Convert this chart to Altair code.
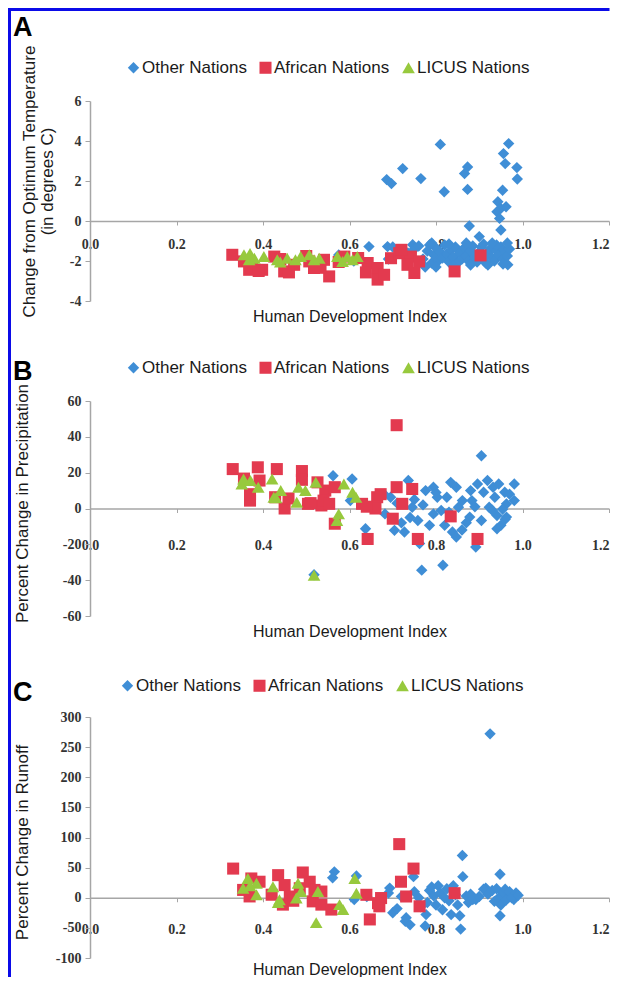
import altair as alt
import pandas as pd

GROUPS = ["Other Nations", "African Nations", "LICUS Nations"]
COLORS = ["#3F8ED6", "#E33A4F", "#97C93D"]
SHAPES = ["diamond", "square", "triangle-up"]
SIZES = [130, 160, 125]
LETTERS = ["A", "B", "C"]
X_TICKS = [0.0, 0.2, 0.4, 0.6, 0.8, 1.0, 1.2]
X_TITLE = "Human Development Index"

# ---------------- Panel A: change from optimum temperature ----------------
A_TITLE = ["Change from Optimum Temperature", "(in degrees C)"]
A_TICKS = [-4, -2, 0, 2, 4, 6]
a_other_hdi = [0.81, 0.968, 0.956, 0.96, 0.987, 0.988, 0.723, 0.686, 0.697, 0.765, 0.819, 0.873,
               0.866, 0.873, 0.954, 0.943, 0.95, 0.962, 0.941, 0.947, 0.95, 0.877, 0.90, 0.966,
               0.575, 0.61, 0.645, 0.688, 0.70, 0.69, 0.725, 0.735, 0.746, 0.75, 0.76, 0.77, 0.775,
               0.78, 0.785, 0.79, 0.795, 0.80, 0.805, 0.81, 0.815, 0.82, 0.825, 0.83, 0.835, 0.84,
               0.845, 0.85, 0.855, 0.86, 0.865, 0.87, 0.875, 0.88, 0.885, 0.89, 0.895, 0.90, 0.905,
               0.91, 0.915, 0.92, 0.925, 0.93, 0.935, 0.94, 0.945, 0.95, 0.955, 0.96, 0.965, 0.97,
               0.79, 0.83, 0.87, 0.91, 0.94, 0.80, 0.84, 0.88, 0.92, 0.955, 0.965, 0.93]
a_other_val = [3.83, 3.87, 3.37, 2.87, 2.67, 2.1, 2.62, 2.07, 1.87, 2.12, 1.46, 2.7,
               2.37, 1.58, 1.54, 0.96, 0.63, 0.71, 0.46, 0.13, -0.45, -0.25, -0.78, -2.19,
               -1.7, -2.0, -1.28, -1.28, -1.3, -1.9, -1.7, -1.6, -1.19, -1.4, -1.25, -1.9, -2.3,
               -1.5, -1.2, -2.1, -1.7, -1.35, -2.0, -1.55, -1.85, -1.2, -1.65, -2.05, -1.45, -1.8,
               -1.3, -2.1, -1.6, -1.9, -1.35, -1.75, -2.0, -1.5, -1.25, -1.8, -2.05, -1.55, -1.3,
               -1.9, -2.1, -1.6, -1.4, -1.85, -2.0, -1.5, -1.7, -1.3, -1.9, -1.55, -1.75, -1.4,
               -1.1, -1.15, -1.1, -1.15, -1.2, -2.3, -2.25, -2.2, -2.2, -2.15, -1.1, -1.1]
a_afr_hdi = [0.329, 0.356, 0.375, 0.398, 0.426, 0.449, 0.472, 0.507, 0.518, 0.541, 0.553, 0.588,
             0.642, 0.665, 0.665, 0.696, 0.715, 0.742, 0.734, 0.761, 0.75, 0.68, 0.843, 0.903,
             0.368, 0.39, 0.46, 0.533, 0.638, 0.72, 0.62, 0.44, 0.50, 0.575]
a_afr_val = [-1.69, -2.02, -2.35, -2.44, -1.78, -2.52, -2.19, -2.02, -2.35, -1.94, -2.77, -1.78,
             -2.1, -2.35, -2.93, -1.86, -1.61, -1.78, -2.19, -2.02, -2.6, -2.69, -2.52, -1.72,
             -2.44, -2.5, -2.57, -2.34, -2.57, -1.44, -1.85, -1.9, -1.75, -2.05]
a_licus_hdi = [0.356, 0.368, 0.38, 0.402, 0.433, 0.456, 0.475, 0.487, 0.507, 0.518, 0.572, 0.584,
               0.595, 0.607, 0.618, 0.53, 0.37, 0.44]
a_licus_val = [-1.69, -1.94, -1.86, -1.78, -1.94, -1.86, -1.94, -1.78, -1.69, -1.94, -1.78, -2.02,
               -1.78, -1.94, -1.78, -1.86, -1.62, -2.05]

# ---------------- Panel B: percent change in precipitation ----------------
B_TITLE = "Percent Change in Precipitation"
B_TICKS = [-60, -40, -20, 0, 20, 40, 60]
b_other_hdi = [0.562, 0.606, 0.602, 0.637, 0.682, 0.695, 0.704, 0.736, 0.727, 0.745, 0.758, 0.767,
               0.762, 0.776, 0.794, 0.803, 0.794, 0.785, 0.812, 0.825, 0.834, 0.82, 0.838, 0.816,
               0.847, 0.852, 0.861, 0.847, 0.883, 0.878, 0.892, 0.896, 0.905, 0.91, 0.919, 0.923,
               0.905, 0.932, 0.936, 0.941, 0.945, 0.95, 0.941, 0.959, 0.963, 0.954, 0.963, 0.981,
               0.981, 0.518, 0.71, 0.72, 0.75, 0.77, 0.80, 0.83, 0.87, 0.89, 0.96, 0.97, 0.93,
               0.88, 0.86, 0.68, 0.74]
b_other_val = [18.3, 16.5, 4.4, -11.3, -3, 6.3, -12.2, 15.6, -13.1, 0.7, -6.7, -34.4,
               -19.6, 10, 11.9, 6.3, -3, -9.4, -1.1, 6.3, 14.6, -9.4, -13.1, -31.7,
               11.9, 0.7, 4.4, -15.9, 4.4, -4.8, -21.5, 13.7, 29.4, 9.1, 15.6, 0.7,
               -6.7, 11.9, 6.3, -3.9, 13.7, -9.4, -11.3, 9.1, 2.6, -0.4, -4.8, 13.7,
               4.4, -37, 3, -8, 5, 2, 9, -2, -8, 1, -6, 8, -1,
               10, -12, 8, -5]
b_afr_hdi = [0.33, 0.356, 0.37, 0.388, 0.392, 0.432, 0.428, 0.45, 0.459, 0.49, 0.49, 0.504,
             0.526, 0.535, 0.544, 0.54, 0.553, 0.566, 0.566, 0.629, 0.642, 0.664, 0.66, 0.70,
             0.709, 0.709, 0.722, 0.745, 0.758, 0.834, 0.896, 0.51, 0.64, 0.672, 0.37]
b_afr_val = [22, 16.7, 4.4, 23, 15.6, 22, 6.3, 0, 5.6, 20.9, 16, 2.6,
             14.6, 1.7, 10, 4.4, 2.6, 11.9, -8.5, 2.6, -17, 6.3, 0, -5.7,
             46.5, 11.9, 2.6, 10.9, -17, -4.4, -17, 3, 1, 8, 8]
b_licus_hdi = [0.351, 0.355, 0.371, 0.389, 0.421, 0.425, 0.441, 0.478, 0.482, 0.498, 0.522, 0.587,
               0.607, 0.615, 0.575, 0.571, 0.518, 0.43]
b_licus_val = [13.7, 16.5, 15.6, 11.9, 16.5, 6.3, 10, 3.5, 11.9, 10, 14.6, 13.7,
               9.1, 6.3, -3, -6.7, -37.2, 6]

# ---------------- Panel C: percent change in runoff ----------------
C_TITLE = "Percent Change in Runoff"
C_TICKS = [-100, -50, 0, 50, 100, 150, 200, 250, 300]
c_other_hdi = [0.925, 0.565, 0.561, 0.616, 0.611, 0.693, 0.70, 0.729, 0.748, 0.775, 0.861, 0.857,
               0.948, 0.948, 0.862, 0.777, 0.731, 0.835, 0.915, 0.892, 0.965, 0.98,
               0.69, 0.71, 0.72, 0.74, 0.75, 0.76, 0.765, 0.78, 0.785, 0.79, 0.795, 0.80,
               0.805, 0.81, 0.815, 0.82, 0.825, 0.83, 0.84, 0.845, 0.85, 0.855, 0.87, 0.875,
               0.88, 0.885, 0.90, 0.91, 0.92, 0.93, 0.935, 0.94, 0.945, 0.95, 0.955, 0.96,
               0.962, 0.97, 0.975, 0.985, 0.99, 0.64]
c_other_val = [272, 43, 33, 36, -3, 16, -25, -39, 35, -47, 70, -52,
               39, -30, 35, -28, -33, -28, 16, -3, 5, -3,
               8, -18, 2, -45, 10, 0, -15, -8, 12, 18, 3, -12,
               20, 8, -20, 0, 15, -5, 20, 5, -12, -30, 3, -8,
               6, -3, 2, 14, 6, 12, -6, 15, 0, -12, 9, 14,
               -4, 10, 0, 8, 4, 2]
c_afr_hdi = [0.331, 0.435, 0.492, 0.373, 0.392, 0.354, 0.369, 0.45, 0.462, 0.485, 0.508, 0.519,
             0.535, 0.515, 0.535, 0.558, 0.446, 0.639, 0.647, 0.669, 0.673, 0.715, 0.719, 0.748,
             0.731, 0.762, 0.843, 0.42, 0.47, 0.666]
c_afr_val = [48.4, 37.5, 41.9, 32, 26.6, 13, 2.2, 21, 2, 15.8, 26.6, 13,
             10.3, -6, -11.4, -19.6, -11.4, 4.9, -36, -14.2, -0.5, 89, 26.6, 48.4,
             2.1, -14.2, 7.6, 5, -5, -9]
c_licus_hdi = [0.365, 0.385, 0.354, 0.385, 0.423, 0.438, 0.435, 0.481, 0.488, 0.477, 0.527, 0.577,
               0.585, 0.523, 0.612, 0.616, 0.37]
c_licus_val = [32, 24, 15.8, 4.9, 18.4, -3.3, -8, 24, 10.3, -0.5, 10.3, -11.4,
               -19.6, -41.3, 32, 7.6, 20]

BORDER = "#0B0BE8"
AXIS_GRAY = "#A6A6A6"
TEXT = "#1a1a1a"
PLOT_LEFT = 90
PLOT_RIGHT = 609


def frame(hdis, vals):
    rows = []
    for g, hs, vs in zip(GROUPS, hdis, vals):
        for h, v in zip(hs, vs):
            rows.append({"group": g, "hdi": h, "val": v})
    return pd.DataFrame(rows)


def one(key):
    return pd.DataFrame({"t": [key]})


def panel(df, letter, ytitle, ydom, yticks, T, H, band_top, band_bot,
          xt_y, letter_xy, legend_xy, ytitle_xy, xlab_pad, line_h=18, top_border=False):
    L = PLOT_LEFT
    W = PLOT_RIGHT - L
    zero_y = T + H * ydom[1] / (ydom[1] - ydom[0])
    leg = alt.Legend(orient="none", legendX=legend_xy[0] - L, legendY=legend_xy[1] - T,
                     direction="horizontal", title=None, labelFont="Liberation Sans",
                     labelFontSize=17, labelColor=TEXT, symbolSize=64, symbolStrokeWidth=0,
                     columnPadding=10, labelOffset=0, padding=0)
    x = alt.X("hdi:Q", scale=alt.Scale(domain=[0, 1.2], nice=False, zero=False),
              axis=alt.Axis(values=X_TICKS, format=".1f", offset=-(T + H - zero_y),
                            title=X_TITLE, titleY=xt_y - zero_y, titleBaseline="middle",
                            titleFont="Liberation Sans", titleFontSize=16,
                            titleFontWeight="normal", titleColor=TEXT,
                            labelFont="Liberation Serif", labelFontSize=14,
                            labelFontWeight="bold", labelColor="#333333", labelFlush=False,
                            labelAlign=alt.condition("datum.value > 1.1", alt.value("right"),
                                                     alt.value("center")),
                            labelPadding=xlab_pad, tickSize=4, tickColor=AXIS_GRAY,
                            domainColor=AXIS_GRAY, domainWidth=1.5, grid=False))
    y = alt.Y("val:Q", scale=alt.Scale(domain=ydom, nice=False, zero=False),
              axis=alt.Axis(values=yticks, labelExpr="'' + datum.value",
                            title=ytitle, titleX=ytitle_xy[0] - L, titleY=ytitle_xy[1] - T,
                            titleAlign="center", titleBaseline="middle",
                            titleFont="Liberation Sans", titleFontSize=17,
                            titleFontWeight="normal", titleColor=TEXT, titleLineHeight=line_h,
                            labelFont="Liberation Serif", labelFontSize=14,
                            labelFontWeight="bold", labelColor="#333333", labelPadding=4,
                            tickSize=5, tickColor=AXIS_GRAY, domainColor=AXIS_GRAY,
                            domainWidth=1.5, grid=False))
    pts = alt.Chart(df).mark_point(filled=True, opacity=1, strokeWidth=0).encode(
        x=x, y=y,
        color=alt.Color("group:N", scale=alt.Scale(domain=GROUPS, range=COLORS), legend=leg),
        shape=alt.Shape("group:N", scale=alt.Scale(domain=GROUPS, range=SHAPES), legend=leg),
        size=alt.Size("group:N", scale=alt.Scale(domain=GROUPS, range=SIZES), legend=None),
    )
    lab = alt.Chart(one(letter)).mark_text(
        align="left", baseline="alphabetic", font="Liberation Sans", fontSize=27,
        fontWeight="bold", color="black").encode(
        text="t:N", x=alt.value(letter_xy[0] - L), y=alt.value(letter_xy[1] - T))
    left = alt.Chart(one("left")).mark_rect(color=BORDER).encode(
        x=alt.value(8 - L), x2=alt.value(11 - L),
        y=alt.value(band_top - T), y2=alt.value(band_bot - T))
    layers = [left, lab, pts]
    if top_border:
        top = alt.Chart(one("top")).mark_rect(color=BORDER).encode(
            x=alt.value(8 - L), x2=alt.value(609.5 - L),
            y=alt.value(band_top - T), y2=alt.value(band_top + 3 - T))
        layers.insert(0, top)
    return alt.layer(*layers).properties(width=W, height=H)


dfA = frame([a_other_hdi, a_afr_hdi, a_licus_hdi], [a_other_val, a_afr_val, a_licus_val])
dfB = frame([b_other_hdi, b_afr_hdi, b_licus_hdi], [b_other_val, b_afr_val, b_licus_val])
dfC = frame([c_other_hdi, c_afr_hdi, c_licus_hdi], [c_other_val, c_afr_val, c_licus_val])

pA = panel(dfA, LETTERS[0], A_TITLE, [-4, 6], A_TICKS, T=101, H=200,
           band_top=8, band_bot=340, xt_y=316, letter_xy=(13, 36), legend_xy=(125, 59),
           ytitle_xy=(29, 181), xlab_pad=12, top_border=True)
pB = panel(dfB, LETTERS[1], B_TITLE, [-60, 60], B_TICKS, T=401, H=215,
           band_top=340, band_bot=655, xt_y=631, letter_xy=(13, 380), legend_xy=(125, 359),
           ytitle_xy=(22, 503), xlab_pad=26)
pC = panel(dfC, LETTERS[2], C_TITLE, [-100, 300], C_TICKS, T=717, H=241,
           band_top=655, band_bot=977, xt_y=969, letter_xy=(13, 701), legend_xy=(119, 677),
           ytitle_xy=(22, 842), xlab_pad=21)

chart = alt.vconcat(pA, pB, pC, spacing=0).resolve_scale(
    color="independent", shape="independent", size="independent"
).resolve_legend(color="independent", shape="independent").properties(
    padding=0, background="white"
).configure_view(stroke=None)

chart.save("out.html", embed_options={"renderer": "svg", "actions": False})
